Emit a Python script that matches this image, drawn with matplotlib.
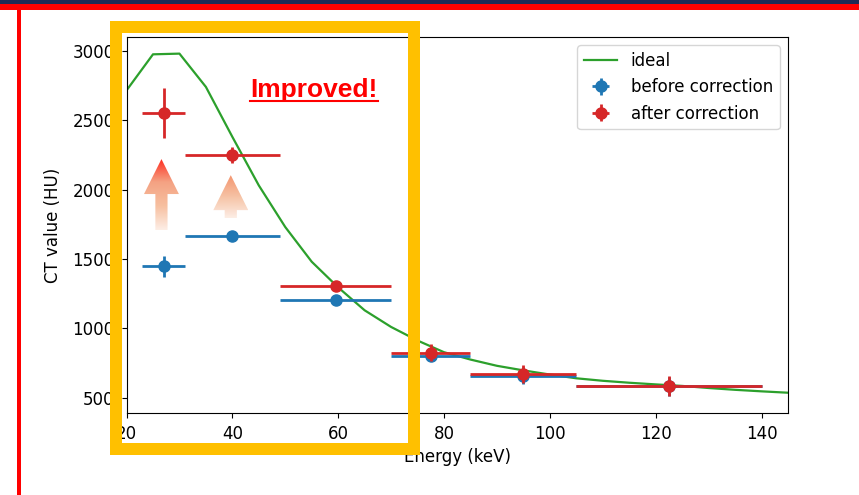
import numpy as np
import matplotlib
matplotlib.use("Agg")
import matplotlib.pyplot as plt
from matplotlib.patches import Polygon, Rectangle
from matplotlib.colors import LinearSegmentedColormap

# ideal curve
ideal_energy = [20, 25, 30, 35, 40, 45, 50, 55, 60, 65, 70, 75, 80, 85, 90,
                95, 100, 105, 110, 115, 120, 125, 130, 135, 140, 145]
ideal_ct = [2715, 2975, 2980, 2740, 2380, 2030, 1730, 1480, 1295, 1130, 1010,
            912, 828, 775, 730, 697, 667, 640, 622, 608, 596, 585, 570, 557,
            546, 536]

# measured bins
energy = [27, 40, 59.5, 77.5, 95, 122.5]
energy_err = [4, 9, 10.5, 7.5, 10, 17.5]
ct_before = [1448, 1668, 1202, 803, 659, 582]
ct_before_err = [75, 20, 20, 40, 60, 70]
ct_after = [2555, 2250, 1305, 824, 671, 586]
ct_after_err = [180, 60, 20, 60, 68, 72]

FS = 12


def gradient_arrow(ax, x, y0, y1, colors, head_len=252, head_hw=3.3, shaft_hw=1.15):
    verts = [(x - shaft_hw, y0), (x + shaft_hw, y0), (x + shaft_hw, y1 - head_len),
             (x + head_hw, y1 - head_len), (x, y1), (x - head_hw, y1 - head_len),
             (x - shaft_hw, y1 - head_len)]
    poly = Polygon(verts, closed=True, facecolor='none', edgecolor='none')
    ax.add_patch(poly)
    cmap = LinearSegmentedColormap.from_list('grad', colors)
    grad = np.linspace(0, 1, 256).reshape(-1, 1)
    im = ax.imshow(grad, cmap=cmap, extent=[x - head_hw, x + head_hw, y0, y1],
                   origin='lower', aspect='auto', zorder=1)
    im.set_clip_path(poly)


fig = plt.figure(figsize=(8.59, 4.95), dpi=100)
ax = fig.add_axes([0.1473, 0.1657, 0.7700, 0.7596])

ax.plot(ideal_energy, ideal_ct, color='tab:green', lw=1.6, label='ideal', zorder=2)
ax.errorbar(energy, ct_before, xerr=energy_err, yerr=ct_before_err, fmt='o',
            color='tab:blue', ms=8, elinewidth=2, label='before correction', zorder=3)
ax.errorbar(energy, ct_after, xerr=energy_err, yerr=ct_after_err, fmt='o',
            color='tab:red', ms=8, elinewidth=2, label='after correction', zorder=4)

gradient_arrow(ax, 26.6, 1708, 2220, ['#FDEEE6', '#F7C0A0', '#F4A283', '#FF2A1E'])
gradient_arrow(ax, 39.7, 1795, 2104, ['#FDEEE6', '#F6C2A4', '#F4956F'])

ax.set_xlim(20, 145)
ax.set_ylim(390, 3100)
ax.set_xlabel('Energy (keV)', fontsize=FS, labelpad=4)
ax.set_ylabel('CT value (HU)', fontsize=FS, labelpad=7.5)
ax.tick_params(labelsize=FS, pad=5)
ax.legend(loc='upper right', fontsize=FS)

# slide decorations drawn in pixel space
ov = fig.add_axes([0, 0, 1, 1], zorder=10)
ov.set_xlim(0, 859)
ov.set_ylim(495, 0)
ov.axis('off')
ov.patch.set_visible(False)
ov.add_patch(Rectangle((0, 0), 859, 4, color='#1F2A55', lw=0))
ov.add_patch(Rectangle((0, 4), 859, 6, color='#FF0000', lw=0))
ov.add_patch(Rectangle((17, 4), 4, 491, color='#FF0000', lw=0))
ov.add_patch(Rectangle((116, 26.5), 298, 422.5, fill=False, edgecolor='#FFC000',
                       lw=12 * 0.72, joinstyle='miter'))
ov.text(314, 97.5, 'Improved!', color='#FF0000', fontsize=19, fontweight='bold',
        family='Liberation Sans', ha='center', va='baseline')
ov.plot([250, 378], [100.5, 100.5], color='#FF0000', lw=1.5)

fig.savefig('out.png', dpi=100)
